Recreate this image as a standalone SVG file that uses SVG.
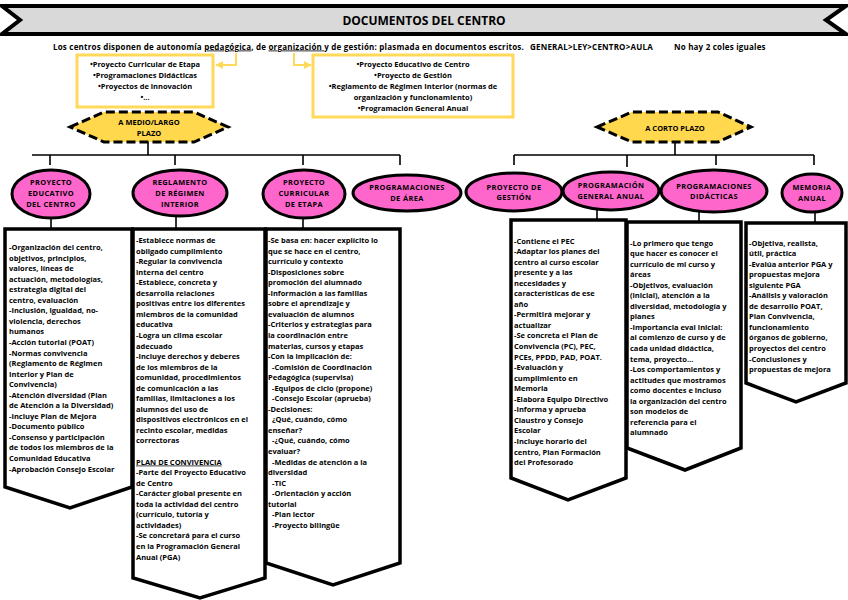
<svg xmlns="http://www.w3.org/2000/svg" width="848" height="600" viewBox="0 0 848 600">
<defs>
<marker id="ya" viewBox="0 0 10 10" refX="9" refY="5" markerWidth="4" markerHeight="4" orient="auto"><path d="M0,0 L10,5 L0,10 z" fill="#ffd95a"/></marker>
<style>
text{font-family:"Open Sans","Liberation Sans",sans-serif;font-weight:bold;fill:#000}
.t{font-size:7.5px}
.s{font-size:8px;letter-spacing:0.2px}
.c{font-size:7.5px;text-anchor:middle}
.o{font-size:7.4px;text-anchor:middle;letter-spacing:0.4px}
.h{font-size:7.5px;text-anchor:middle}
.ov{fill:#ff66cc;stroke:#000;stroke-width:3}
.hex{fill:#ffd84d;stroke:#000;stroke-width:3;stroke-dasharray:9 4}
.col{fill:#fff;stroke:#000;stroke-width:3.5;stroke-linejoin:miter}
.yb{fill:#fff;stroke:#ffd95a;stroke-width:3}
.yl{fill:none;stroke:#ffd95a;stroke-width:2}
.cn{fill:none;stroke:#000;stroke-width:1.6}
</style>
</defs>
<rect width="848" height="600" fill="#fff"/>

<g id="title">
<polygon points="2,6 846,6 826,20 846,34 2,34 20,20" fill="#d9d9d9" stroke="#000" stroke-width="4"/>
<text x="424" y="24.5" style="font-size:12px" text-anchor="middle">DOCUMENTOS DEL CENTRO</text>
</g>

<g id="intro">
<text class="s" x="53" y="49.5">Los centros disponen de autonomía <tspan text-decoration="underline">pedagógica</tspan>, de <tspan text-decoration="underline">organización </tspan>y de gestión: plasmada en documentos escritos.</text>
<text class="s" x="530" y="49.5">GENERAL&gt;LEY&gt;CENTRO&gt;AULA</text>
<text class="s" x="674" y="49.5">No hay 2 coles iguales</text>
</g>

<g id="box-pedagogica">
<rect class="yb" x="77" y="55" width="136" height="52"/>
<text class="c"><tspan x="145" y="66.5">•Proyecto Curricular de Etapa</tspan><tspan x="145" y="77.5">•Programaciones Didácticas</tspan><tspan x="145" y="88.5">•Proyectos de innovación</tspan><tspan x="145" y="100">•...</tspan></text>
</g>

<g id="box-organizacion">
<rect class="yb" x="313" y="55" width="200" height="62"/>
<text class="c"><tspan x="413" y="66.5">•Proyecto Educativo de Centro</tspan><tspan x="413" y="77.5">•Proyecto de Gestión</tspan><tspan x="413" y="88.5">•Reglamento de Régimen Interior (normas de</tspan><tspan x="413" y="99.5">organización y funcionamiento)</tspan><tspan x="413" y="110.5">•Programación General Anual</tspan></text>
</g>

<g id="hex-medio">
<polygon class="hex" points="70,127 104,112 194,112 228,127 194,142 104,142"/>
<text class="h"><tspan x="149" y="124.5">A MEDIO/LARGO</tspan><tspan x="149" y="135.5">PLAZO</tspan></text>
</g>

<g id="hex-corto">
<polygon class="hex" points="597,127 632,112 718,112 751,127 718,142 632,142"/>
<text class="h" x="675" y="130.5">A CORTO PLAZO</text>
</g>

<g id="connectors">
<path class="yl" d="M236,53 V65 H216" marker-end="url(#ya)"/>
<path class="yl" d="M294,53 V65 H311" marker-end="url(#ya)"/>
<path class="cn" d="M148,142 V155 M32,155 H400 M50,155 V165 M175,155 V165 M303,155 V165 M400,155 V165"/>
<path class="cn" d="M675,142 V155 M514,155 H814 M514,155 V165 M627,155 V167 M716,155 V165 M814,155 V165"/>
<path class="cn" d="M51,217 V229 M176,216 V229 M303,217 V229 M597,209 V220 M699,211 V222 M815,211 V223"/>
</g>

<g id="pec">
<ellipse class="ov" cx="51" cy="194" rx="39" ry="24"/>
<text class="o"><tspan x="51" y="185">PROYECTO</tspan><tspan x="51" y="196">EDUCATIVO</tspan><tspan x="51" y="207">DEL CENTRO</tspan></text>
</g>
<g id="pec-detalle">
<polygon class="col" points="5,229 132,229 132,487 70,508 5,487"/>
<text class="t"><tspan x="9" y="250">-Organización del centro,</tspan><tspan x="9" dy="10.55">objetivos, principios,</tspan><tspan x="9" dy="10.55">valores, líneas de</tspan><tspan x="9" dy="10.55">actuación, metodologías,</tspan><tspan x="9" dy="10.55">estrategia digital del</tspan><tspan x="9" dy="10.55">centro, evaluación</tspan><tspan x="9" dy="10.55">-Inclusión, igualdad, no-</tspan><tspan x="9" dy="10.55">violencia, derechos</tspan><tspan x="9" dy="10.55">humanos</tspan><tspan x="9" dy="10.55">-Acción tutorial (POAT)</tspan><tspan x="9" dy="10.55">-Normas convivencia</tspan><tspan x="9" dy="10.55">(Reglamento de Régimen</tspan><tspan x="9" dy="10.55">Interior y Plan de</tspan><tspan x="9" dy="10.55">Convivencia)</tspan><tspan x="9" dy="10.55">-Atención diversidad (Plan</tspan><tspan x="9" dy="10.55">de Atención a la Diversidad)</tspan><tspan x="9" dy="10.55">-Incluye Plan de Mejora</tspan><tspan x="9" dy="10.55">-Documento público</tspan><tspan x="9" dy="10.55">-Consenso y participación</tspan><tspan x="9" dy="10.55">de todos los miembros de la</tspan><tspan x="9" dy="10.55">Comunidad Educativa</tspan><tspan x="9" dy="10.55">-Aprobación Consejo Escolar</tspan></text>
</g>

<g id="rri">
<ellipse class="ov" cx="180" cy="193" rx="47" ry="23"/>
<text class="o"><tspan x="180" y="185">REGLAMENTO</tspan><tspan x="180" y="196">DE RÉGIMEN</tspan><tspan x="180" y="207">INTERIOR</tspan></text>
</g>
<g id="rri-detalle">
<polygon class="col" points="133,229 265,229 265,578 200,598 133,578"/>
<text class="t"><tspan x="136" y="243">-Establece normas de</tspan><tspan x="136" dy="10.55">obligado cumplimiento</tspan><tspan x="136" dy="10.55">-Regular la convivencia</tspan><tspan x="136" dy="10.55">interna del centro</tspan><tspan x="136" dy="10.55">-Establece, concreta y</tspan><tspan x="136" dy="10.55">desarrolla relaciones</tspan><tspan x="136" dy="10.55">positivas entre los diferentes</tspan><tspan x="136" dy="10.55">miembros de la comunidad</tspan><tspan x="136" dy="10.55">educativa</tspan><tspan x="136" dy="10.55">-Logra un clima escolar</tspan><tspan x="136" dy="10.55">adecuado</tspan><tspan x="136" dy="10.55">-Incluye derechos y deberes</tspan><tspan x="136" dy="10.55">de los miembros de la</tspan><tspan x="136" dy="10.55">comunidad, procedimientos</tspan><tspan x="136" dy="10.55">de comunicación a las</tspan><tspan x="136" dy="10.55">familias, limitaciones a los</tspan><tspan x="136" dy="10.55">alumnos del uso de</tspan><tspan x="136" dy="10.55">dispositivos electrónicos en el</tspan><tspan x="136" dy="10.55">recinto escolar, medidas</tspan><tspan x="136" dy="10.55">correctoras</tspan><tspan x="136" dy="21.1" text-decoration="underline">PLAN DE CONVIVENCIA</tspan><tspan x="136" dy="10.55">-Parte del Proyecto Educativo</tspan><tspan x="136" dy="10.55">de Centro</tspan><tspan x="136" dy="10.55">-Carácter global presente en</tspan><tspan x="136" dy="10.55">toda la actividad del centro</tspan><tspan x="136" dy="10.55">(currículo, tutoría y</tspan><tspan x="136" dy="10.55">actividades)</tspan><tspan x="136" dy="10.55">-Se concretará para el curso</tspan><tspan x="136" dy="10.55">en la Programación General</tspan><tspan x="136" dy="10.55">Anual (PGA)</tspan></text>
</g>

<g id="pce">
<ellipse class="ov" cx="304" cy="194" rx="41" ry="24"/>
<text class="o"><tspan x="304" y="185">PROYECTO</tspan><tspan x="304" y="196">CURRICULAR</tspan><tspan x="304" y="207">DE ETAPA</tspan></text>
</g>
<g id="pce-detalle">
<polygon class="col" points="266,229 400,229 400,563 333,585 266,563"/>
<text class="t"><tspan x="268" y="243">-Se basa en: hacer explícito lo</tspan><tspan x="268" dy="10.55">que se hace en el centro,</tspan><tspan x="268" dy="10.55">currículo y contexto</tspan><tspan x="268" dy="10.55">-Disposiciones sobre</tspan><tspan x="268" dy="10.55">promoción del alumnado</tspan><tspan x="268" dy="10.55">-Información a las familias</tspan><tspan x="268" dy="10.55">sobre el aprendizaje y</tspan><tspan x="268" dy="10.55">evaluación de alumnos</tspan><tspan x="268" dy="10.55">-Criterios y estrategias para</tspan><tspan x="268" dy="10.55">la coordinación entre</tspan><tspan x="268" dy="10.55">materias, cursos y etapas</tspan><tspan x="268" dy="10.55">-Con la implicación de:</tspan><tspan x="272" dy="10.55">-Comisión de Coordinación</tspan><tspan x="268" dy="10.55">Pedagógica (supervisa)</tspan><tspan x="272" dy="10.55">-Equipos de ciclo (propone)</tspan><tspan x="272" dy="10.55">-Consejo Escolar (aprueba)</tspan><tspan x="268" dy="10.55">-Decisiones:</tspan><tspan x="272" dy="10.55">¿Qué, cuándo, cómo</tspan><tspan x="268" dy="10.55">enseñar?</tspan><tspan x="272" dy="10.55">-¿Qué, cuándo, cómo</tspan><tspan x="268" dy="10.55">evaluar?</tspan><tspan x="272" dy="10.55">-Medidas de atención a la</tspan><tspan x="268" dy="10.55">diversidad</tspan><tspan x="272" dy="10.55">-TIC</tspan><tspan x="272" dy="10.55">-Orientación y acción</tspan><tspan x="268" dy="10.55">tutorial</tspan><tspan x="272" dy="10.55">-Plan lector</tspan><tspan x="272" dy="10.55">-Proyecto bilingüe</tspan></text>
</g>

<g id="programaciones-area">
<ellipse class="ov" cx="407" cy="193" rx="54" ry="18"/>
<text class="o"><tspan x="407" y="190">PROGRAMACIONES</tspan><tspan x="407" y="201">DE ÁREA</tspan></text>
</g>

<g id="proyecto-gestion">
<ellipse class="ov" cx="514" cy="192" rx="48" ry="19"/>
<text class="o"><tspan x="514" y="189.5">PROYECTO DE</tspan><tspan x="514" y="200">GESTIÓN</tspan></text>
</g>

<g id="pga">
<ellipse class="ov" cx="611" cy="191" rx="48" ry="19"/>
<text class="o"><tspan x="611" y="188">PROGRAMACIÓN</tspan><tspan x="611" y="198.5">GENERAL ANUAL</tspan></text>
</g>
<g id="pga-detalle">
<polygon class="col" points="511,220 626,220 626,478 568,500 511,478"/>
<text class="t"><tspan x="514" y="243.5">-Contiene el PEC</tspan><tspan x="514" dy="10.55">-Adaptar los planes del</tspan><tspan x="514" dy="10.55">centro al curso escolar</tspan><tspan x="514" dy="10.55">presente y a las</tspan><tspan x="514" dy="10.55">necesidades y</tspan><tspan x="514" dy="10.55">características de ese</tspan><tspan x="514" dy="10.55">año</tspan><tspan x="514" dy="10.55">-Permitirá mejorar y</tspan><tspan x="514" dy="10.55">actualizar</tspan><tspan x="514" dy="10.55">-Se concreta el Plan de</tspan><tspan x="514" dy="10.55">Convivencia (PC), PEC,</tspan><tspan x="514" dy="10.55">PCEs, PPDD, PAD, POAT.</tspan><tspan x="514" dy="10.55">-Evaluación y</tspan><tspan x="514" dy="10.55">cumplimiento en</tspan><tspan x="514" dy="10.55">Memoria</tspan><tspan x="514" dy="10.55">-Elabora Equipo Directivo</tspan><tspan x="514" dy="10.55">-Informa y aprueba</tspan><tspan x="514" dy="10.55">Claustro y Consejo</tspan><tspan x="514" dy="10.55">Escolar</tspan><tspan x="514" dy="10.55">-Incluye horario del</tspan><tspan x="514" dy="10.55">centro, Plan Formación</tspan><tspan x="514" dy="10.55">del Profesorado</tspan></text>
</g>

<g id="programaciones-didacticas">
<ellipse class="ov" cx="714" cy="191" rx="53" ry="21"/>
<text class="o"><tspan x="714" y="188.5">PROGRAMACIONES</tspan><tspan x="714" y="199">DIDÁCTICAS</tspan></text>
</g>
<g id="pd-detalle">
<polygon class="col" points="627,222 741,222 741,448 685,470 627,448"/>
<text class="t"><tspan x="630" y="245.5">-Lo primero que tengo</tspan><tspan x="630" dy="10.55">que hacer es conocer el</tspan><tspan x="630" dy="10.55">currículo de mi curso y</tspan><tspan x="630" dy="10.55">áreas</tspan><tspan x="630" dy="10.55">-Objetivos, evaluación</tspan><tspan x="630" dy="10.55">(inicial), atención a la</tspan><tspan x="630" dy="10.55">diversidad, metodología y</tspan><tspan x="630" dy="10.55">planes</tspan><tspan x="630" dy="10.55">-Importancia eval inicial:</tspan><tspan x="630" dy="10.55">al comienzo de curso y de</tspan><tspan x="630" dy="10.55">cada unidad didáctica,</tspan><tspan x="630" dy="10.55">tema, proyecto…</tspan><tspan x="630" dy="10.55">-Los comportamientos y</tspan><tspan x="630" dy="10.55">actitudes que mostramos</tspan><tspan x="630" dy="10.55">como docentes e incluso</tspan><tspan x="630" dy="10.55">la organización del centro</tspan><tspan x="630" dy="10.55">son modelos de</tspan><tspan x="630" dy="10.55">referencia para el</tspan><tspan x="630" dy="10.55">alumnado</tspan></text>
</g>

<g id="memoria">
<ellipse class="ov" cx="812" cy="193" rx="30" ry="19"/>
<text class="o"><tspan x="812" y="190">MEMORIA</tspan><tspan x="812" y="201">ANUAL</tspan></text>
</g>
<g id="memoria-detalle">
<polygon class="col" points="746,223 846,223 846,383 796,402 746,383"/>
<text class="t"><tspan x="749" y="245.5">-Objetiva, realista,</tspan><tspan x="749" dy="10.55">útil, práctica</tspan><tspan x="749" dy="10.55">-Evalúa anterior PGA y</tspan><tspan x="749" dy="10.55">propuestas mejora</tspan><tspan x="749" dy="10.55">siguiente PGA</tspan><tspan x="749" dy="10.55">-Análisis y valoración</tspan><tspan x="749" dy="10.55">de desarrollo POAT,</tspan><tspan x="749" dy="10.55">Plan Convivencia,</tspan><tspan x="749" dy="10.55">funcionamiento</tspan><tspan x="749" dy="10.55">órganos de gobierno,</tspan><tspan x="749" dy="10.55">proyectos del centro</tspan><tspan x="749" dy="10.55">-Conclusiones y</tspan><tspan x="749" dy="10.55">propuestas de mejora</tspan></text>
</g>
</svg>
